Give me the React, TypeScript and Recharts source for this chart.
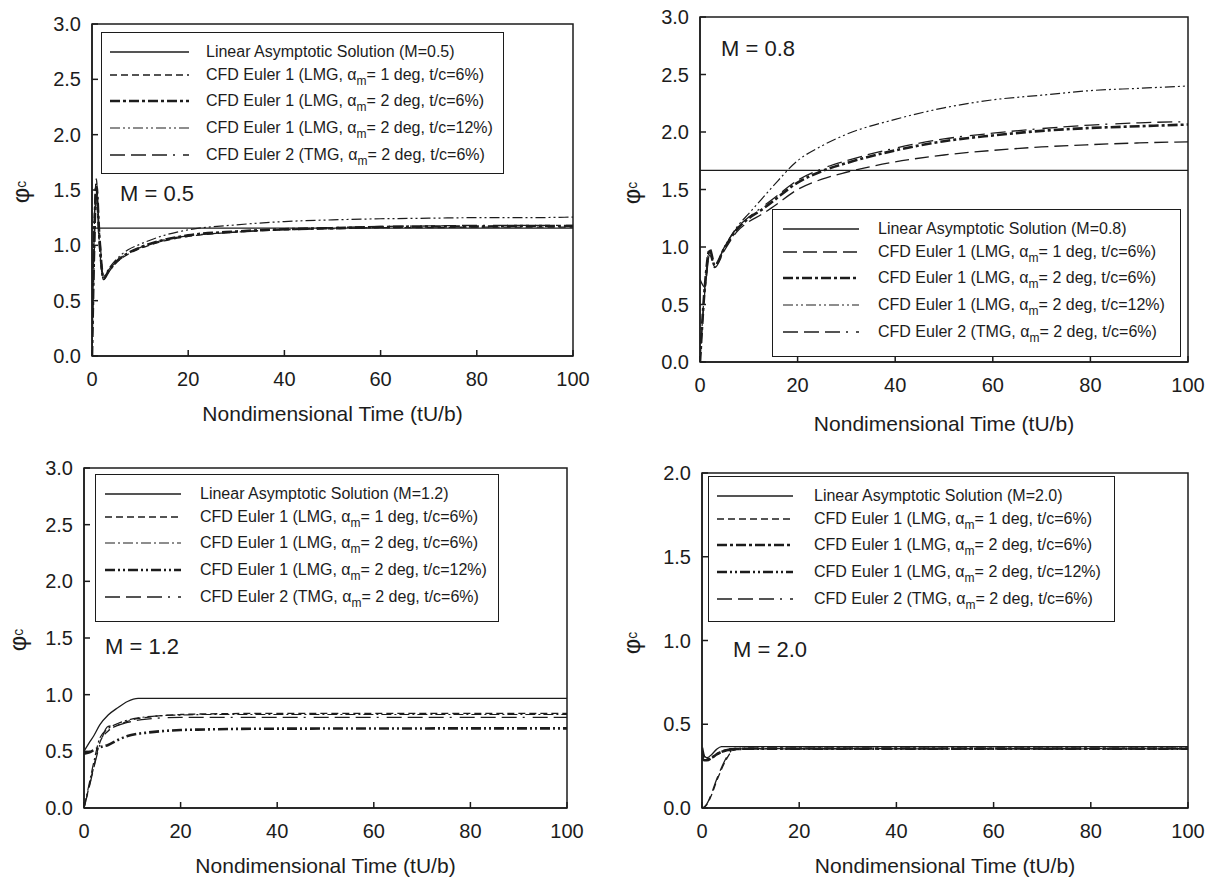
import { LineChart, Line, XAxis, YAxis, Legend, ReferenceArea } from 'recharts';

const INK = '#1c1c1c';
const FONT = '"Liberation Sans", Arial, Helvetica, sans-serif';

const xTicks = [0, 20, 40, 60, 80, 100];
const yTicks3 = [0, 0.5, 1, 1.5, 2, 2.5, 3];
const yTicks2 = [0, 0.5, 1, 1.5, 2];
const xTitle = 'Nondimensional Time (tU/b)';

// M = 0.5
const timeM05 = [0, 0.4, 0.9, 1.5, 2.4, 3.5, 5, 7.5, 10, 15, 20, 30, 40, 50, 60, 70, 80, 90, 100];
const linM05 = [1.155, 1.155, 1.155, 1.155, 1.155, 1.155, 1.155, 1.155, 1.155, 1.155, 1.155, 1.155, 1.155, 1.155, 1.155, 1.155, 1.155, 1.155, 1.155];
const e1aM05 = [0, 1.0, 1.6, 1.05, 0.69, 0.76, 0.84, 0.92, 0.97, 1.04, 1.08, 1.12, 1.14, 1.15, 1.16, 1.16, 1.165, 1.165, 1.165];
const e1bM05 = [0, 0.9, 1.55, 1.1, 0.7, 0.77, 0.85, 0.93, 0.98, 1.05, 1.09, 1.125, 1.145, 1.155, 1.165, 1.17, 1.17, 1.175, 1.175];
const e1cM05 = [0, 1.2, 1.45, 1.0, 0.72, 0.79, 0.87, 0.96, 1.01, 1.09, 1.14, 1.185, 1.215, 1.23, 1.24, 1.245, 1.25, 1.25, 1.255];
const e2M05 = [0, 0.8, 1.5, 1.15, 0.71, 0.78, 0.85, 0.93, 0.98, 1.05, 1.085, 1.12, 1.145, 1.16, 1.17, 1.175, 1.18, 1.18, 1.18];

// M = 0.8
const timeM08 = [0, 1, 2, 3, 5, 7.5, 10, 12.5, 15, 20, 25, 30, 40, 50, 60, 70, 80, 90, 100];
const linM08 = [1.667, 1.667, 1.667, 1.667, 1.667, 1.667, 1.667, 1.667, 1.667, 1.667, 1.667, 1.667, 1.667, 1.667, 1.667, 1.667, 1.667, 1.667, 1.667];
const e1aM08 = [0, 0.62, 0.93, 0.82, 0.97, 1.13, 1.22, 1.28, 1.35, 1.5, 1.59, 1.65, 1.74, 1.8, 1.84, 1.87, 1.89, 1.905, 1.915];
const e1bM08 = [0, 0.66, 0.98, 0.84, 0.99, 1.15, 1.25, 1.32, 1.4, 1.56, 1.66, 1.73, 1.84, 1.92, 1.97, 2.01, 2.035, 2.05, 2.065];
const e1cM08 = [0, 0.66, 0.98, 0.84, 1.0, 1.17, 1.29, 1.41, 1.53, 1.75, 1.88, 1.98, 2.11, 2.21, 2.28, 2.32, 2.36, 2.38, 2.4];
const e2M08 = [0.72, 0.65, 0.97, 0.83, 1.0, 1.16, 1.26, 1.34, 1.42, 1.58, 1.68, 1.75, 1.86, 1.94, 1.99, 2.03, 2.06, 2.08, 2.09];

// M = 1.2
const timeM12 = [0, 1, 2, 3.3, 5, 7, 9, 11.2, 13, 16, 20, 25, 30, 40, 50, 60, 70, 80, 90, 100];
const linM12 = [0.5, 0.57, 0.635, 0.735, 0.82, 0.885, 0.94, 0.968, 0.968, 0.968, 0.968, 0.968, 0.968, 0.968, 0.968, 0.968, 0.968, 0.968, 0.968, 0.968];
const e1aM12 = [0, 0.18, 0.36, 0.58, 0.68, 0.73, 0.765, 0.79, 0.8, 0.815, 0.825, 0.83, 0.833, 0.835, 0.835, 0.835, 0.835, 0.835, 0.835, 0.835];
const e1bM12 = [0, 0.2, 0.4, 0.62, 0.7, 0.745, 0.775, 0.795, 0.805, 0.815, 0.82, 0.825, 0.825, 0.825, 0.825, 0.825, 0.825, 0.825, 0.825, 0.825];
const e1cM12 = [0.48, 0.49, 0.51, 0.535, 0.556, 0.6, 0.635, 0.655, 0.665, 0.678, 0.688, 0.693, 0.697, 0.7, 0.701, 0.702, 0.702, 0.703, 0.703, 0.703];
const e2M12 = [0, 0.17, 0.35, 0.56, 0.72, 0.73, 0.755, 0.775, 0.785, 0.795, 0.8, 0.8, 0.8, 0.8, 0.8, 0.8, 0.8, 0.8, 0.8, 0.8];

// M = 2.0
const timeM20 = [0, 0.5, 1, 2, 3, 4, 5, 6, 7, 8, 10, 20, 40, 60, 80, 100];
const linM20 = [0.33, 0.31, 0.3, 0.32, 0.35, 0.366, 0.366, 0.366, 0.366, 0.366, 0.366, 0.366, 0.366, 0.366, 0.366, 0.366];
const e1aM20 = [0, 0.005, 0.02, 0.08, 0.16, 0.23, 0.29, 0.335, 0.35, 0.352, 0.355, 0.355, 0.355, 0.355, 0.355, 0.355];
const e1bM20 = [0.36, 0.3, 0.29, 0.3, 0.32, 0.335, 0.345, 0.35, 0.352, 0.353, 0.355, 0.355, 0.355, 0.355, 0.355, 0.355];
const e1cM20 = [0.3, 0.285, 0.285, 0.3, 0.32, 0.335, 0.345, 0.35, 0.352, 0.353, 0.354, 0.354, 0.354, 0.354, 0.354, 0.354];
const e2M20 = [0, 0.008, 0.025, 0.09, 0.17, 0.24, 0.3, 0.34, 0.35, 0.353, 0.353, 0.353, 0.353, 0.353, 0.353, 0.353];

type LineStyle = { dash?: string; width: number };
const STYLE: Record<string, LineStyle> = {
  solid: { width: 1.3 },
  short: { dash: '7 4', width: 1.3 },
  long: { dash: '14 6', width: 1.3 },
  dashDotThick: { dash: '10 3 3 3', width: 2.6 },
  dashDotThin: { dash: '10 3 2 3', width: 1.2 },
  dotDotThin: { dash: '10 3 2 3 2 3', width: 1.2 },
  dotDotThick: { dash: '10 3 2 3 2 3', width: 2.6 },
  longDot: { dash: '15 6 15 6 15 6 2 8', width: 1.3 },
};

const KEYS = ['lin', 'e1a', 'e1b', 'e1c', 'e2'];

const cfdLabels = [
  ['CFD Euler 1 (LMG, α', 'm', '= 1 deg, t/c=6%)'],
  ['CFD Euler 1 (LMG, α', 'm', '= 2 deg, t/c=6%)'],
  ['CFD Euler 1 (LMG, α', 'm', '= 2 deg, t/c=12%)'],
  ['CFD Euler 2 (TMG, α', 'm', '= 2 deg, t/c=6%)'],
];

const legendRows = [19, 42, 68, 95, 122];

const panels = [
  {
    mach: '0.5', time: timeM05, series: [linM05, e1aM05, e1bM05, e1cM05, e2M05],
    styles: ['solid', 'short', 'dashDotThick', 'dotDotThin', 'longDot'],
    left: 0, top: 0, width: 607, height: 440, margin: { top: 24, right: 34, bottom: 18, left: 32 },
    yMax: 3, yTicks: yTicks3, titleOffset: 1,
    legend: { x: 101, y: 32, w: 403, h: 142, s0: 8, s1: 87, tx: 104 },
    mPos: { x: 120, y: 194 }, phiPos: { x: 21, y: 192 },
  },
  {
    mach: '0.8', time: timeM08, series: [linM08, e1aM08, e1bM08, e1cM08, e2M08],
    styles: ['solid', 'long', 'dashDotThick', 'dotDotThin', 'longDot'],
    left: 607, top: 0, width: 607, height: 440, margin: { top: 17, right: 26, bottom: 12, left: 33 },
    yMax: 3, yTicks: yTicks3, titleOffset: -3,
    legend: { x: 772, y: 209, w: 409, h: 148, s0: 10, s1: 86, tx: 105 },
    mPos: { x: 721, y: 49 }, phiPos: { x: 632, y: 193 },
  },
  {
    mach: '1.2', time: timeM12, series: [linM12, e1aM12, e1bM12, e1cM12, e2M12],
    styles: ['solid', 'short', 'dashDotThin', 'dotDotThick', 'longDot'],
    left: 0, top: 440, width: 607, height: 437, margin: { top: 28, right: 40, bottom: 3, left: 24 },
    yMax: 3, yTicks: yTicks3, titleOffset: 1,
    legend: { x: 95, y: 474, w: 404, h: 148, s0: 9, s1: 85, tx: 104 },
    mPos: { x: 105, y: 647 }, phiPos: { x: 18, y: 640 },
  },
  {
    mach: '2.0', time: timeM20, series: [linM20, e1aM20, e1bM20, e1cM20, e2M20],
    styles: ['solid', 'short', 'dashDotThick', 'dotDotThick', 'longDot'],
    left: 607, top: 440, width: 607, height: 437, margin: { top: 33, right: 26, bottom: 3, left: 35 },
    yMax: 2, yTicks: yTicks2, titleOffset: 1,
    legend: { x: 708, y: 476, w: 407, h: 146, s0: 8, s1: 84, tx: 105 },
    mPos: { x: 733, y: 650 }, phiPos: { x: 632, y: 643 },
  },
];

function LegendBox({ p }: { p: any }) {
  const lg = p.legend;
  return (
    <div style={{ position: 'relative', width: lg.w, height: lg.h, boxSizing: 'border-box', border: `1.5px solid ${INK}`, background: '#fff', fontFamily: FONT, fontSize: 16, color: INK }}>
      {KEYS.map((k, i) => {
        const st = STYLE[p.styles[i]];
        const cy = legendRows[i];
        return (
          <div key={k}>
            <svg style={{ position: 'absolute', left: 0, top: cy - 6 }} width={lg.s1 + 2} height={12}>
              <line x1={lg.s0} x2={lg.s1} y1={6} y2={6} stroke={INK} strokeWidth={st.width} strokeDasharray={st.dash} />
            </svg>
            <div style={{ position: 'absolute', left: lg.tx, top: cy - 10, lineHeight: '20px', whiteSpace: 'nowrap' }}>
              {i === 0 ? `Linear Asymptotic Solution (M=${p.mach})` : (
                <>
                  {cfdLabels[i - 1][0]}
                  <sub style={{ fontSize: 12, lineHeight: 0, verticalAlign: -5 }}>{cfdLabels[i - 1][1]}</sub>
                  {cfdLabels[i - 1][2]}
                </>
              )}
            </div>
          </div>
        );
      })}
    </div>
  );
}

function Panel({ p }: { p: any }) {
  const data = p.time.map((t: number, i: number) => {
    const row: any = { t };
    KEYS.forEach((k, j) => { row[k] = p.series[j][i]; });
    return row;
  });
  const axisStyle = { stroke: INK, strokeWidth: 1.5 };
  const tickStyle = { fill: INK, fontSize: 20, fontFamily: FONT };

  return (
    <div style={{ position: 'absolute', left: p.left, top: p.top, width: p.width, height: p.height }}>
      <LineChart width={p.width} height={p.height} data={data} margin={p.margin}>
        <XAxis
          dataKey="t" type="number" domain={[0, 100]} ticks={xTicks} allowDataOverflow
          height={66} tickSize={-6} tickMargin={22} axisLine={axisStyle} tickLine={axisStyle} tick={tickStyle}
          label={{ value: xTitle, position: 'insideBottom', offset: p.titleOffset, fill: INK, fontSize: 21, fontFamily: FONT }}
        />
        <YAxis
          type="number" domain={[0, p.yMax]} ticks={p.yTicks} allowDataOverflow width={60}
          tickSize={-6} tickMargin={17} axisLine={axisStyle} tickLine={axisStyle} tick={tickStyle}
          tickFormatter={(v: number) => v.toFixed(1)}
        />
        <ReferenceArea x1={0} x2={100} y1={0} y2={p.yMax} fill="none" stroke={INK} strokeWidth={1.5} />
        {KEYS.map((k, i) => {
          const st = STYLE[p.styles[i]];
          return (
            <Line
              key={k} dataKey={k} type="monotone" stroke={INK} strokeWidth={st.width}
              strokeDasharray={st.dash} dot={false} isAnimationActive={false}
            />
          );
        })}
        <Legend
          layout="vertical" align="center" verticalAlign="middle"
          wrapperStyle={{ left: p.legend.x - p.left, top: p.legend.y - p.top, width: p.legend.w, height: p.legend.h }}
          content={() => <LegendBox p={p} />}
        />
      </LineChart>
      <div style={{ position: 'absolute', left: p.mPos.x - p.left, top: p.mPos.y - p.top - 13, fontFamily: FONT, fontSize: 22, lineHeight: '26px', color: INK, whiteSpace: 'nowrap' }}>
        M = {p.mach}
      </div>
      <div style={{ position: 'absolute', left: p.phiPos.x - p.left - 20, top: p.phiPos.y - p.top - 15, width: 40, height: 30, display: 'flex', alignItems: 'center', justifyContent: 'center', transform: 'rotate(-90deg)', fontFamily: FONT, fontSize: 24, color: INK }}>
        φ<sub style={{ fontSize: 14, lineHeight: 0, verticalAlign: -4 }}>c</sub>
      </div>
    </div>
  );
}

export default function App() {
  return (
    <div style={{ position: 'absolute', left: 0, top: 0, width: 1214, height: 877, background: '#fff', overflow: 'hidden' }}>
      {panels.map((p) => <Panel key={p.mach} p={p} />)}
    </div>
  );
}
